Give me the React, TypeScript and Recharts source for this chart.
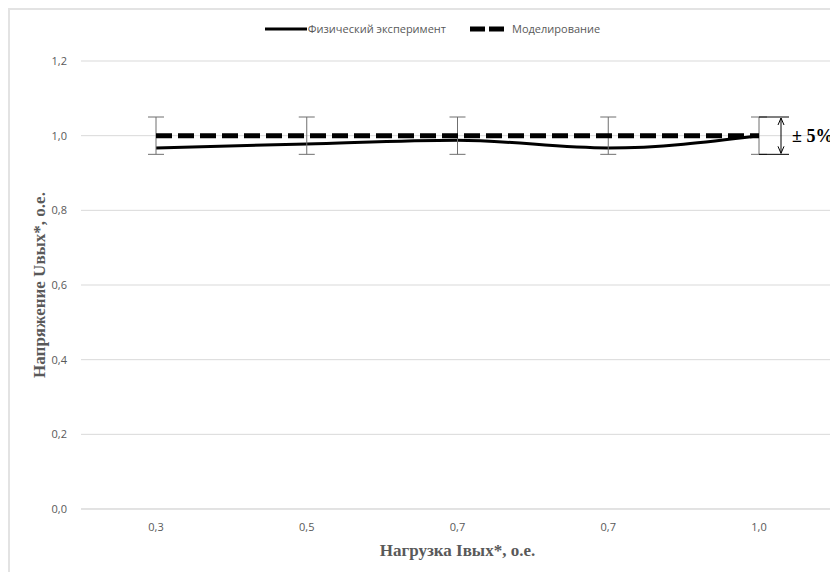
import React from 'react';
import * as R from 'recharts';
import {
  ComposedChart,
  Line,
  XAxis,
  YAxis,
  CartesianGrid,
  ErrorBar,
  Legend,
  LabelList,
  Label,
} from 'recharts';

// ─── Data ─────────────────────────────────────────────────────────────────────

const loads = ['0,3', '0,5', '0,7', '0,7', '1,0'];
const experiment = [0.967, 0.978, 0.988, 0.967, 1.0];
const modeling = [1.0, 1.0, 1.0, 1.0, 1.0];
const modelError = [0.05, 0.05, 0.05, 0.05, 0.05];
const yTicks = [0, 0.2, 0.4, 0.6, 0.8, 1.0, 1.2];

const data = loads.map((load, i) => ({
  load,
  experiment: experiment[i],
  modeling: modeling[i],
  err: modelError[i],
}));

// ─── Style ────────────────────────────────────────────────────────────────────

const W = 829;
const H = 563;
const MARGIN = { top: 51, right: 5, left: 0, bottom: 0 };
const Y_MAX = 1.2;
const GRAY = '#595959';
const TICK_FONT = "'Open Sans', sans-serif";
const TITLE_FONT = "'Liberation Serif', 'Times New Roman', serif";

const fmt = (v: number) => v.toFixed(1).replace('.', ',');

// ─── Legend ───────────────────────────────────────────────────────────────────

function ChartLegend() {
  return (
    <div style={{ display: 'flex', justifyContent: 'center', alignItems: 'center', fontFamily: TICK_FONT, fontSize: 11, color: GRAY, paddingLeft: 16 }}>
      <svg width={42} height={8}>
        <line x1={0} y1={4} x2={42} y2={4} stroke="#000" strokeWidth={3} />
      </svg>
      <span style={{ marginLeft: 1, marginRight: 24 }}>Физический эксперимент</span>
      <svg width={36} height={8}>
        <line x1={0} y1={4} x2={36} y2={4} stroke="#000" strokeWidth={5} strokeDasharray="15 4" />
      </svg>
      <span style={{ marginLeft: 6 }}>Моделирование</span>
    </div>
  );
}

// ─── ±5% annotation at the last point ─────────────────────────────────────────

function ToleranceMark(props: any) {
  const area = (R as any).usePlotArea ? (R as any).usePlotArea() : null;
  const { x, y, index } = props;
  if (index !== loads.length - 1 || x == null || y == null) return null;
  const plotH = area?.height ?? H - MARGIN.top - 64;
  const h = (modelError[index] / Y_MAX) * plotH;
  const ax = x + 22;
  return (
    <g>
      <line x1={x} y1={y - h} x2={x + 30} y2={y - h} stroke="#000" strokeWidth={1} />
      <line x1={x} y1={y + h} x2={x + 30} y2={y + h} stroke="#000" strokeWidth={1} />
      <line x1={ax} y1={y - h + 1} x2={ax} y2={y + h - 1} stroke="#000" strokeWidth={1} />
      <polyline points={`${ax - 3},${y - h + 8} ${ax},${y - h + 1} ${ax + 3},${y - h + 8}`} fill="none" stroke="#000" strokeWidth={1} />
      <polyline points={`${ax - 3},${y + h - 8} ${ax},${y + h - 1} ${ax + 3},${y + h - 8}`} fill="none" stroke="#000" strokeWidth={1} />
      <text x={x + 33} y={y + 6} style={{ fontFamily: TITLE_FONT, fontWeight: 'bold', fontSize: 18 }} fill="#000">
        ± 5%
      </text>
    </g>
  );
}

// ─── Axis titles ──────────────────────────────────────────────────────────────

function YTitle({ viewBox }: any) {
  const cx = viewBox.x + 29;
  const cy = viewBox.y + viewBox.height / 2;
  return (
    <text x={cx} y={cy} transform={`rotate(-90 ${cx} ${cy})`} textAnchor="middle" dominantBaseline="central" style={{ fontFamily: TITLE_FONT, fontWeight: 'bold', fontSize: 17 }} fill={GRAY}>
      Напряжение Uвых*, о.е.
    </text>
  );
}

function XTitle({ viewBox }: any) {
  const cx = viewBox.x + viewBox.width / 2;
  return (
    <text x={cx} y={viewBox.y + 47} textAnchor="middle" style={{ fontFamily: TITLE_FONT, fontWeight: 'bold', fontSize: 17 }} fill={GRAY}>
      Нагрузка Iвых*, о.е.
    </text>
  );
}

// ─── App ──────────────────────────────────────────────────────────────────────

export default function App() {
  return (
    <div style={{ width: W + 20, height: H + 20, borderLeft: '2px solid #e3e3e3', borderTop: '2px solid #e3e3e3', background: '#fff', overflow: 'hidden' }}>
      <ComposedChart width={W} height={H} data={data} margin={MARGIN}>
        <CartesianGrid horizontal vertical={false} stroke="#d9d9d9" />
        <XAxis
          dataKey="load"
          padding={{ left: 75, right: 75 }}
          axisLine={{ stroke: '#d9d9d9' }}
          tickLine={false}
          tick={{ fill: GRAY, fontSize: 11, fontFamily: TICK_FONT }}
          tickMargin={8}
          height={64}
          interval={0}
        >
          <Label content={<XTitle />} />
        </XAxis>
        <YAxis
          type="number"
          domain={[0, Y_MAX]}
          ticks={yTicks}
          tickFormatter={fmt}
          axisLine={false}
          tickLine={false}
          tick={{ fill: GRAY, fontSize: 11, fontFamily: TICK_FONT }}
          tickMargin={8}
          width={71}
        >
          <Label content={<YTitle />} />
        </YAxis>
        <Legend
          verticalAlign="top"
          content={<ChartLegend />}
          wrapperStyle={{ top: 11, left: 0, width: W, height: 0, overflow: 'visible' }}
        />
        <Line
          type="monotone"
          dataKey="experiment"
          stroke="#000"
          strokeWidth={3}
          dot={false}
          activeDot={false}
          isAnimationActive={false}
        />
        <Line
          type="linear"
          dataKey="modeling"
          stroke="#000"
          strokeWidth={5}
          strokeDasharray="16 6"
          dot={false}
          activeDot={false}
          isAnimationActive={false}
        >
          <ErrorBar dataKey="err" direction="y" width={8} stroke="#6f6f6f" strokeWidth={1} isAnimationActive={false} />
          <LabelList dataKey="modeling" content={<ToleranceMark />} />
        </Line>
      </ComposedChart>
    </div>
  );
}
